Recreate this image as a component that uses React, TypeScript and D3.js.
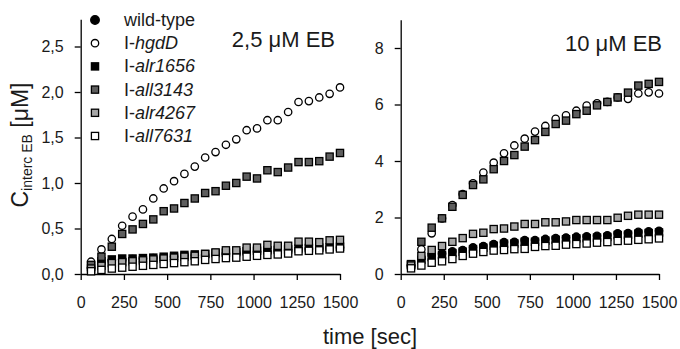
import React, { useEffect, useRef } from 'react';
import * as d3 from 'd3';

// sampling times (sec)
const times = [60, 120, 180, 240, 300, 360, 420, 480, 540, 600, 660, 720, 780, 840, 900, 960, 1020, 1080, 1140, 1200, 1260, 1320, 1380, 1440, 1500];

const xTicks = [0, 250, 500, 750, 1000, 1250, 1500];
const leftYTicks = [0, 0.5, 1.0, 1.5, 2.0, 2.5];
const rightYTicks = [0, 2, 4, 6, 8];

// 2,5 µM EB
const wtLeft = [0.07, 0.13, 0.15, 0.16, 0.165, 0.17, 0.175, 0.18, 0.19, 0.2, 0.205, 0.21, 0.22, 0.225, 0.23, 0.24, 0.245, 0.25, 0.255, 0.26, 0.27, 0.275, 0.28, 0.285, 0.29];
const hgdDLeft = [0.135, 0.27, 0.385, 0.53, 0.63, 0.71, 0.83, 0.94, 1.02, 1.1, 1.18, 1.28, 1.34, 1.42, 1.48, 1.58, 1.6, 1.69, 1.69, 1.78, 1.89, 1.9, 1.94, 1.98, 2.05];
const alr1656Left = [0.08, 0.14, 0.16, 0.17, 0.17, 0.175, 0.18, 0.19, 0.2, 0.21, 0.215, 0.22, 0.23, 0.235, 0.24, 0.25, 0.255, 0.26, 0.265, 0.27, 0.28, 0.285, 0.29, 0.295, 0.3];
const all3143Left = [0.1, 0.19, 0.3, 0.44, 0.49, 0.55, 0.6, 0.69, 0.72, 0.78, 0.83, 0.89, 0.91, 0.97, 1.0, 1.07, 1.05, 1.14, 1.12, 1.17, 1.23, 1.23, 1.24, 1.29, 1.33];
const alr4267Left = [0.06, 0.09, 0.12, 0.13, 0.14, 0.15, 0.16, 0.17, 0.18, 0.19, 0.2, 0.22, 0.237, 0.26, 0.26, 0.29, 0.29, 0.32, 0.31, 0.31, 0.355, 0.355, 0.35, 0.37, 0.375];
const all7631Left = [0.03, 0.045, 0.06, 0.07, 0.08, 0.09, 0.1, 0.11, 0.12, 0.13, 0.14, 0.155, 0.165, 0.175, 0.18, 0.19, 0.2, 0.21, 0.215, 0.225, 0.25, 0.255, 0.26, 0.27, 0.28];

// 10 µM EB
const wtRight = [0.3, 0.55, 0.67, 0.73, 0.8, 0.85, 0.94, 0.99, 1.06, 1.13, 1.14, 1.2, 1.2, 1.24, 1.27, 1.29, 1.32, 1.33, 1.35, 1.37, 1.44, 1.45, 1.49, 1.51, 1.53];
const hgdDRight = [0.3, 0.87, 1.44, 1.97, 2.44, 2.83, 3.21, 3.59, 3.94, 4.27, 4.55, 4.79, 5.04, 5.24, 5.49, 5.62, 5.78, 5.96, 6.04, 6.09, 6.25, 6.2, 6.39, 6.43, 6.39];
const alr1656Right = [0.33, 0.5, 0.6, 0.67, 0.74, 0.79, 0.88, 0.93, 1.0, 1.07, 1.08, 1.14, 1.14, 1.18, 1.21, 1.23, 1.26, 1.27, 1.29, 1.31, 1.38, 1.39, 1.43, 1.45, 1.47];
const all3143Right = [0.35, 1.14, 1.64, 1.97, 2.38, 2.8, 3.15, 3.35, 3.71, 4.0, 4.21, 4.51, 4.74, 5.03, 5.31, 5.43, 5.66, 5.78, 5.97, 6.09, 6.25, 6.42, 6.67, 6.73, 6.8];
const alr4267Right = [0.3, 0.64, 0.85, 0.99, 1.14, 1.27, 1.42, 1.46, 1.59, 1.61, 1.68, 1.77, 1.77, 1.83, 1.83, 1.86, 1.91, 1.91, 1.91, 1.91, 1.99, 2.06, 2.1, 2.1, 2.1];
const all7631Right = [0.2, 0.3, 0.4, 0.45, 0.53, 0.64, 0.72, 0.78, 0.83, 0.85, 0.88, 0.89, 0.96, 0.99, 1.0, 1.04, 1.06, 1.08, 1.11, 1.13, 1.17, 1.18, 1.21, 1.23, 1.26];

// legend: name, marker shape, fill
const seriesNames = ['wild-type', 'hgdD', 'alr1656', 'all3143', 'alr4267', 'all7631'];
const seriesShapes = ['circle', 'circle', 'square', 'square', 'square', 'square'];
const seriesFills = ['#000', '#fff', '#000', '#5e5e5e', '#a6a6a6', '#fff'];

const FONT = '"Liberation Sans", Arial, sans-serif';

const App = () => {
  const svgRef = useRef<SVGSVGElement>(null);

  useEffect(() => {
    const svg = d3.select(svgRef.current);
    svg.selectAll('*').remove();
    svg.attr('width', 680).attr('height', 349).style('font-family', FONT);

    const comma = (d: number) => d3.format('.1f')(d).replace('.', ',');

    const panels = [
      { x0: 80.7, x1: 340, yMax: 2.8, pxPerUnit: 91, yTicks: leftYTicks, fmt: comma, data: [wtLeft, hgdDLeft, alr1656Left, all3143Left, alr4267Left, all7631Left] },
      { x0: 400.7, x1: 659, yMax: 9, pxPerUnit: 28.25, yTicks: rightYTicks, fmt: d3.format('d'), data: [wtRight, hgdDRight, alr1656Right, all3143Right, alr4267Right, all7631Right] },
    ];

    panels.forEach((p) => {
      const x = d3.scaleLinear().domain([0, 1500]).range([p.x0, p.x1]);
      const y = d3.scaleLinear().domain([0, p.yMax]).range([274, 274 - p.yMax * p.pxPerUnit]);

      const gx = svg.append('g').attr('transform', 'translate(0,274)')
        .call(d3.axisBottom(x).tickValues(xTicks).tickSize(6).tickSizeOuter(0).tickPadding(16.5).tickFormat(d3.format('d') as any));
      const gy = svg.append('g').attr('transform', `translate(${p.x0},0)`)
        .call(d3.axisLeft(y).tickValues(p.yTicks).tickSize(6).tickSizeOuter(0).tickPadding(11).tickFormat(p.fmt as any));
      [gx, gy].forEach((g) => {
        g.selectAll('path, line').attr('stroke', '#000').attr('stroke-width', 1.3);
        g.selectAll('text').attr('font-size', 16).attr('fill', '#1a1a1a').style('font-family', FONT);
      });

      p.data.forEach((vals, si) => {
        const g = svg.append('g');
        vals.forEach((v, i) => {
          const cx = x(times[i]);
          const cy = y(v);
          if (seriesShapes[si] === 'circle') {
            g.append('circle').attr('cx', cx).attr('cy', cy).attr('r', 3.7)
              .attr('fill', seriesFills[si]).attr('stroke', '#000').attr('stroke-width', 1.3);
          } else {
            g.append('rect').attr('x', cx - 3.6).attr('y', cy - 3.6).attr('width', 7.2).attr('height', 7.2)
              .attr('fill', seriesFills[si]).attr('stroke', '#000').attr('stroke-width', 1.3);
          }
        });
      });
    });

    // titles
    svg.append('text').attr('x', 335).attr('y', 47).attr('text-anchor', 'end')
      .attr('font-size', 22).attr('fill', '#1a1a1a').text('2,5 μM EB');
    svg.append('text').attr('x', 662).attr('y', 51).attr('text-anchor', 'end')
      .attr('font-size', 22).attr('fill', '#1a1a1a').text('10 μM EB');

    // legend
    const legend = svg.append('g');
    seriesNames.forEach((name, i) => {
      const ly = 20 + i * 23.2;
      if (seriesShapes[i] === 'circle') {
        legend.append('circle').attr('cx', 95).attr('cy', ly).attr('r', i === 0 ? 4.3 : 3.7)
          .attr('fill', seriesFills[i]).attr('stroke', '#000').attr('stroke-width', 1.3);
      } else {
        legend.append('rect').attr('x', 91.4).attr('y', ly - 3.6).attr('width', 7.2).attr('height', 7.2)
          .attr('fill', seriesFills[i]).attr('stroke', '#000').attr('stroke-width', 1.3);
      }
      const t = legend.append('text').attr('x', 124).attr('y', ly + 6).attr('font-size', 18).attr('fill', '#1a1a1a');
      if (i === 0) {
        t.text(name);
      } else {
        t.append('tspan').text('I-');
        t.append('tspan').attr('font-style', 'italic').text(name);
      }
    });

    // axis labels
    svg.append('text').attr('x', 370).attr('y', 344).attr('text-anchor', 'middle')
      .attr('font-size', 22).attr('fill', '#1a1a1a').text('time [sec]');

    const yl = svg.append('text').attr('transform', 'translate(28,145) rotate(-90)')
      .attr('text-anchor', 'middle').attr('fill', '#1a1a1a').attr('font-size', 23);
    yl.append('tspan').text('C');
    yl.append('tspan').attr('font-size', 14).attr('dy', 4).text('interc EB');
    yl.append('tspan').attr('dy', -4).text(' [μM]');
  }, []);

  return (
    <div style={{ position: 'absolute', left: 0, top: 0 }}>
      <svg ref={svgRef}></svg>
    </div>
  );
};

export default App;
